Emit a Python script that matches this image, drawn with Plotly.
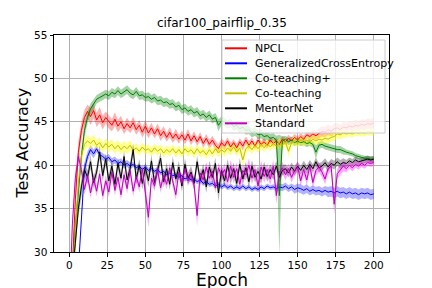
import numpy as np
import plotly.graph_objects as go

epochs = [1] + list(range(2, 201, 2))

npcl = [25.0,
    28.0, 36.0, 41.5, 44.0, 45.5, 46.2, 45.6, 46.3, 45.2, 45.8,
    44.9, 45.5, 45.0, 44.6, 45.3, 44.5, 45.0, 44.2, 44.8, 44.3,
    44.9, 44.1, 44.6, 43.8, 44.5, 43.7, 44.3, 43.6, 44.2, 43.4,
    43.9, 43.2, 43.8, 43.1, 43.6, 43.0, 43.5, 42.9, 43.6, 42.8,
    43.4, 42.7, 43.3, 42.5, 43.1, 42.4, 42.9, 42.3, 41.9, 42.6,
    42.2, 42.8, 42.1, 42.6, 42.0, 42.7, 42.2, 42.9, 42.3, 42.8,
    42.2, 42.9, 42.4, 42.7, 42.3, 42.9, 42.5, 42.8, 42.4, 43.0,
    42.7, 43.1, 42.8, 43.2, 42.9, 43.3, 43.0, 43.5, 43.3, 43.6,
    43.4, 43.7, 43.9, 43.8, 44.1, 43.9, 44.2, 44.3, 44.1, 44.4,
    44.3, 44.5, 44.4, 44.6, 44.5, 44.7, 44.6, 44.8, 44.7, 44.9]
npcl_std = [0.5,
    0.6, 1.0, 1.2, 1.0, 0.9, 0.8, 1.0, 0.9, 0.8, 0.9,
    0.8, 0.7, 0.8, 0.7, 0.8, 0.7, 0.7, 0.6, 0.7, 0.6,
    0.7, 0.6, 0.6, 0.6, 0.7, 0.6, 0.6, 0.5, 0.6, 0.6,
    0.6, 0.5, 0.6, 0.5, 0.6, 0.5, 0.5, 0.5, 0.6, 0.5,
    0.5, 0.5, 0.5, 0.5, 0.5, 0.5, 0.5, 0.5, 0.5, 0.5,
    0.5, 0.4, 0.5, 0.4, 0.5, 0.4, 0.5, 0.4, 0.5, 0.4,
    0.4, 0.4, 0.4, 0.4, 0.4, 0.4, 0.4, 0.4, 0.4, 0.4,
    0.4, 0.4, 0.4, 0.4, 0.4, 0.4, 0.4, 0.4, 0.5, 0.5,
    0.5, 0.6, 0.6, 0.6, 0.6, 0.6, 0.6, 0.6, 0.6, 0.6,
    0.6, 0.6, 0.6, 0.6, 0.6, 0.6, 0.6, 0.6, 0.6, 0.6]

gce = [20.0,
    22.0, 25.0, 28.0, 33.5, 39.5, 41.0, 41.8, 41.3, 41.9, 41.2,
    41.0, 40.7, 40.9, 40.4, 40.6, 40.2, 40.4, 40.0, 40.2, 39.9,
    40.1, 39.7, 39.9, 39.5, 39.8, 39.4, 39.6, 39.3, 39.5, 39.1,
    39.3, 38.9, 39.1, 38.8, 38.9, 38.6, 38.8, 38.4, 38.6, 38.3,
    38.4, 38.1, 38.3, 37.9, 38.1, 37.8, 37.9, 37.6, 37.8, 37.5,
    37.7, 37.4, 37.6, 37.3, 37.5, 37.3, 37.6, 37.3, 37.5, 37.2,
    37.4, 37.2, 37.5, 37.3, 37.6, 37.4, 37.5, 37.3, 37.5, 37.4,
    37.6, 37.3, 37.5, 37.2, 37.4, 37.3, 37.1, 37.3, 37.0, 37.2,
    37.0, 37.1, 36.9, 37.1, 36.9, 37.0, 36.8, 37.0, 36.8, 36.9,
    36.7, 36.9, 36.7, 36.8, 36.6, 36.8, 36.7, 36.8, 36.6, 36.7]
gce_std = [0.5,
    0.5, 0.5, 0.8, 1.0, 0.8, 0.6, 0.5, 0.5, 0.4, 0.4,
    0.4, 0.4, 0.4, 0.4, 0.4, 0.4, 0.4, 0.4, 0.4, 0.4,
    0.3, 0.3, 0.3, 0.3, 0.3, 0.3, 0.3, 0.3, 0.3, 0.3,
    0.3, 0.3, 0.3, 0.3, 0.3, 0.3, 0.3, 0.3, 0.3, 0.3,
    0.3, 0.3, 0.3, 0.3, 0.3, 0.3, 0.3, 0.3, 0.3, 0.3,
    0.3, 0.3, 0.3, 0.3, 0.3, 0.3, 0.3, 0.3, 0.3, 0.3,
    0.3, 0.3, 0.3, 0.3, 0.3, 0.3, 0.3, 0.4, 0.4, 0.4,
    0.4, 0.4, 0.4, 0.5, 0.5, 0.5, 0.5, 0.5, 0.5, 0.5,
    0.5, 0.5, 0.5, 0.5, 0.6, 0.6, 0.6, 0.6, 0.6, 0.6,
    0.6, 0.6, 0.6, 0.6, 0.6, 0.6, 0.6, 0.6, 0.6, 0.6]

coteach_plus = [22.0,
    27.0, 33.0, 37.0, 41.0, 44.0, 45.5, 46.5, 47.0, 47.6, 47.8,
    48.0, 48.2, 48.0, 48.4, 48.2, 48.6, 48.2, 48.5, 48.7, 48.3,
    48.1, 48.5, 48.0, 48.1, 47.8, 47.9, 47.6, 47.8, 47.4, 47.5,
    47.2, 47.3, 47.0, 47.1, 46.7, 46.9, 46.4, 46.6, 46.2, 46.4,
    46.0, 46.2, 45.7, 45.9, 45.5, 45.8, 45.3, 45.5, 44.6, 45.1,
    45.0, 44.7, 44.9, 44.4, 44.6, 44.2, 44.4, 44.0, 44.1, 43.7,
    43.9, 43.5, 43.6, 43.3, 43.4, 43.1, 43.2, 42.9, 36.5, 42.8,
    43.0, 42.7, 42.9, 42.6, 42.8, 42.6, 42.7, 42.5, 42.6, 42.4,
    41.5, 42.3, 42.4, 42.2, 42.1, 42.0, 41.9, 41.8, 41.8, 41.6,
    41.5, 41.4, 41.3, 41.1, 41.0, 40.9, 40.8, 40.8, 40.7, 40.7]
coteach_plus_std = [0.5,
    0.5, 0.8, 1.0, 0.9, 0.8, 0.7, 0.6, 0.6, 0.5, 0.5,
    0.5, 0.5, 0.5, 0.5, 0.5, 0.5, 0.5, 0.5, 0.5, 0.5,
    0.5, 0.5, 0.5, 0.5, 0.5, 0.5, 0.5, 0.5, 0.5, 0.5,
    0.5, 0.5, 0.5, 0.5, 0.5, 0.5, 0.5, 0.5, 0.5, 0.5,
    0.5, 0.5, 0.5, 0.5, 0.5, 0.5, 0.5, 0.5, 0.7, 0.5,
    0.5, 0.5, 0.5, 0.5, 0.5, 0.5, 0.5, 0.5, 0.5, 0.5,
    0.5, 0.5, 0.5, 0.5, 0.5, 0.5, 0.5, 0.5, 7.0, 0.5,
    0.4, 0.4, 0.4, 0.4, 0.4, 0.4, 0.4, 0.4, 0.4, 0.4,
    0.8, 0.4, 0.4, 0.4, 0.4, 0.4, 0.4, 0.4, 0.4, 0.4,
    0.3, 0.3, 0.3, 0.3, 0.3, 0.3, 0.3, 0.3, 0.3, 0.3]

coteach = [24.0,
    27.0, 33.0, 38.0, 41.0, 42.4, 42.8, 42.5, 42.9, 42.3, 42.6,
    42.0, 42.5, 42.1, 42.4, 41.9, 42.3, 41.8, 42.2, 41.9, 42.3,
    41.7, 42.0, 41.6, 42.1, 41.7, 41.9, 41.5, 42.0, 41.6, 41.9,
    41.4, 41.8, 41.5, 41.9, 41.4, 41.8, 41.3, 41.9, 41.5, 41.8,
    41.3, 41.9, 41.4, 41.7, 41.2, 41.8, 41.3, 41.9, 41.4, 41.8,
    41.5, 42.0, 41.6, 42.1, 41.5, 42.0, 40.6, 41.9, 42.2, 41.8,
    42.3, 41.9, 42.4, 42.0, 42.5, 42.1, 42.5, 42.2, 42.6, 42.3,
    42.7, 41.6, 42.6, 42.8, 42.5, 42.9, 42.6, 42.9, 42.7, 43.0,
    42.8, 43.0, 42.9, 43.1, 43.0, 43.2, 43.3, 43.6, 43.5, 43.7,
    43.6, 43.7, 43.6, 43.8, 43.7, 43.8, 43.7, 43.9, 43.8, 43.8]
coteach_std = [0.5,
    0.6, 0.8, 0.9, 0.8, 0.7, 0.7, 0.6, 0.6, 0.6, 0.6,
    0.6, 0.6, 0.6, 0.6, 0.6, 0.6, 0.6, 0.6, 0.6, 0.6,
    0.5, 0.5, 0.5, 0.5, 0.5, 0.5, 0.5, 0.5, 0.5, 0.5,
    0.5, 0.5, 0.5, 0.5, 0.5, 0.5, 0.5, 0.5, 0.5, 0.5,
    0.5, 0.5, 0.5, 0.5, 0.5, 0.5, 0.5, 0.5, 0.5, 0.5,
    0.5, 0.5, 0.5, 0.5, 0.5, 0.5, 0.8, 0.5, 0.5, 0.5,
    0.5, 0.5, 0.5, 0.5, 0.5, 0.5, 0.5, 0.5, 0.5, 0.5,
    0.5, 0.7, 0.5, 0.5, 0.5, 0.5, 0.5, 0.5, 0.5, 0.5,
    0.5, 0.5, 0.5, 0.5, 0.5, 0.5, 0.5, 0.5, 0.5, 0.5,
    0.4, 0.4, 0.4, 0.4, 0.4, 0.4, 0.4, 0.4, 0.4, 0.4]

mentornet = [24.0,
    27.0, 31.0, 35.0, 37.5, 39.5, 38.6, 40.4, 38.0, 39.2, 41.5,
    38.8, 40.7, 38.2, 39.9, 37.8, 40.2, 38.5, 41.0, 38.3, 39.6,
    41.8, 38.4, 40.0, 37.9, 39.7, 38.2, 40.5, 38.0, 39.4, 40.8,
    38.1, 39.6, 37.8, 40.3, 38.4, 39.8, 37.6, 40.1, 38.5, 39.2,
    37.9, 40.4, 38.3, 39.5, 37.5, 39.8, 38.6, 40.2, 36.8, 39.4,
    38.2, 40.0, 38.5, 39.6, 37.9, 40.1, 38.4, 39.7, 38.1, 39.9,
    38.6, 39.3, 38.4, 39.8, 38.7, 39.5, 38.9, 39.9, 38.6, 39.4,
    39.6, 39.1, 39.8, 39.3, 39.9, 39.4, 40.0, 39.5, 40.1, 39.6,
    40.4, 39.7, 39.9, 40.3, 39.8, 40.2, 40.0, 40.4, 40.1, 40.3,
    40.2, 40.5, 40.3, 40.6, 40.4, 40.5, 40.6, 40.7, 40.6, 40.7]
mentornet_std = [0.5,
    0.5, 0.8, 1.0, 0.9, 0.8, 0.8, 0.8, 0.7, 0.7, 0.8,
    0.7, 0.7, 0.7, 0.7, 0.7, 0.7, 0.7, 0.7, 0.7, 0.7,
    0.7, 0.7, 0.7, 0.7, 0.7, 0.7, 0.7, 0.7, 0.7, 0.7,
    0.7, 0.7, 0.7, 0.7, 0.7, 0.7, 0.7, 0.7, 0.7, 0.7,
    0.7, 0.7, 0.7, 0.7, 0.7, 0.7, 0.7, 0.7, 1.0, 0.7,
    0.7, 0.7, 0.7, 0.7, 0.7, 0.7, 0.7, 0.7, 0.7, 0.7,
    0.6, 0.6, 0.6, 0.6, 0.6, 0.6, 0.6, 0.6, 0.6, 0.6,
    0.5, 0.5, 0.5, 0.5, 0.5, 0.5, 0.5, 0.5, 0.5, 0.5,
    0.5, 0.5, 0.5, 0.5, 0.5, 0.5, 0.5, 0.5, 0.5, 0.5,
    0.4, 0.4, 0.4, 0.4, 0.4, 0.4, 0.4, 0.4, 0.4, 0.4]

standard = [28.0,
    33.0, 38.5, 41.0, 39.5, 37.2, 38.8, 36.8, 38.5, 37.0, 39.0,
    36.5, 38.2, 36.9, 39.2, 37.1, 38.6, 36.6, 38.9, 37.3, 39.4,
    37.0, 38.7, 37.5, 39.6, 36.9, 34.0, 38.5, 37.6, 39.5, 37.4,
    38.8, 37.8, 39.7, 38.0, 36.6, 39.2, 37.9, 39.6, 38.2, 39.0,
    37.7, 34.2, 39.1, 38.3, 39.8, 38.5, 39.3, 37.4, 39.7, 38.8,
    39.5, 38.1, 39.9, 38.6, 39.6, 37.8, 39.4, 38.9, 40.0, 38.5,
    39.5, 37.6, 39.8, 38.7, 39.5, 38.4, 39.9, 36.5, 39.2, 39.7,
    38.9, 39.6, 38.6, 39.4, 39.8, 38.2, 39.5, 38.3, 39.9, 38.0,
    39.4, 39.8, 39.2, 38.4, 39.6, 39.9, 35.5, 39.0, 39.5, 39.9,
    39.6, 40.0, 39.7, 40.1, 39.9, 40.2, 40.0, 40.3, 40.2, 40.3]
standard_std = [0.5,
    0.6, 0.8, 0.8, 0.7, 0.6, 0.6, 0.6, 0.6, 0.6, 0.6,
    0.6, 0.6, 0.6, 0.6, 0.6, 0.6, 0.6, 0.6, 0.6, 0.6,
    0.6, 0.6, 0.6, 0.6, 0.6, 1.2, 0.6, 0.6, 0.6, 0.6,
    0.6, 0.6, 0.6, 0.6, 0.6, 0.6, 0.6, 0.6, 0.6, 0.6,
    0.6, 1.2, 0.6, 0.6, 0.6, 0.6, 0.6, 0.6, 0.6, 0.6,
    0.7, 0.7, 0.7, 0.7, 0.7, 0.7, 0.7, 0.7, 0.7, 0.7,
    0.7, 0.7, 0.7, 0.7, 0.7, 0.7, 0.7, 1.0, 0.7, 0.7,
    0.6, 0.6, 0.6, 0.6, 0.6, 0.6, 0.6, 0.6, 0.6, 0.6,
    0.6, 0.6, 0.6, 0.6, 0.6, 0.6, 1.2, 0.6, 0.6, 0.6,
    0.4, 0.4, 0.4, 0.4, 0.4, 0.4, 0.4, 0.4, 0.4, 0.4]

names = ["NPCL", "GeneralizedCrossEntropy", "Co-teaching+", "Co-teaching", "MentorNet", "Standard"]
means = [npcl, gce, coteach_plus, coteach, mentornet, standard]
stds = [npcl_std, gce_std, coteach_plus_std, coteach_std, mentornet_std, standard_std]
line_colors = ["#ff0000", "#0000ff", "#008000", "#bfbf00", "#000000", "#bf00bf"]
band_colors = ["rgba(255,0,0,0.3)", "rgba(0,0,255,0.3)", "rgba(0,128,0,0.35)",
               "rgba(255,255,0,0.45)", "rgba(0,0,0,0.3)", "rgba(255,0,255,0.35)"]

FONT = "DejaVu Sans"
W, H = 432, 288
ML, MR, MT, MB = 54, 43, 35, 36
PW, PH = W - ML - MR, H - MT - MB

def px_x(p):
    return (p - ML) / PW

def px_y(p):
    return (H - MB - p) / PH

fig = go.Figure()
x = np.array(epochs, dtype=float)
for m, s, bc in zip(means, stds, band_colors):
    m = np.array(m); s = np.array(s)
    fig.add_trace(go.Scatter(
        x=np.concatenate([x, x[::-1]]),
        y=np.concatenate([m + s, (m - s)[::-1]]),
        fill="toself", fillcolor=bc, line=dict(width=0),
        mode="lines", showlegend=False, hoverinfo="skip"))
for n, m, lc in zip(names, means, line_colors):
    fig.add_trace(go.Scatter(x=epochs, y=m, mode="lines", name=n, showlegend=False,
                             line=dict(color=lc, width=1.0)))

# legend drawn as box + sample lines + labels (matplotlib-like spacing)
shapes = [dict(type="rect", xref="paper", yref="paper", layer="above",
               x0=px_x(222), x1=px_x(385), y0=px_y(133), y1=px_y(40),
               fillcolor="rgba(255,255,255,0.8)", line=dict(color="#cccccc", width=1))]
annotations = []
for i, (n, lc) in enumerate(zip(names, line_colors)):
    yc = 48.3 + i * 15.0
    shapes.append(dict(type="line", xref="paper", yref="paper", layer="above",
                       x0=px_x(225), x1=px_x(247), y0=px_y(yc), y1=px_y(yc),
                       line=dict(color=lc, width=2)))
    annotations.append(dict(text=n, xref="paper", yref="paper", x=px_x(253), y=px_y(yc),
                            xanchor="left", yanchor="middle", showarrow=False,
                            font=dict(family=FONT, size=11, color="black")))

axis_common = dict(showgrid=True, gridcolor="#b0b0b0", gridwidth=0.8,
                   showline=True, linecolor="black", linewidth=1, mirror=True,
                   ticks="outside", ticklen=3.5, tickcolor="black", zeroline=False,
                   tickfont=dict(family=FONT, size=10.5, color="black"))
annotations += [
    dict(text="cifar100_pairflip_0.35", xref="paper", yref="paper", x=0.5, y=1,
         xanchor="center", yanchor="bottom", yshift=3, showarrow=False,
         font=dict(family=FONT, size=12, color="black")),
    dict(text="Epoch", xref="paper", yref="paper", x=0.5, y=0,
         xanchor="center", yanchor="top", yshift=-16, showarrow=False,
         font=dict(family=FONT, size=17, color="black")),
    dict(text="Test Accuracy", xref="paper", yref="paper", x=0, y=0.5,
         xanchor="center", yanchor="middle", xshift=-32, textangle=-90, showarrow=False,
         font=dict(family=FONT, size=16, color="black")),
]
fig.update_layout(
    width=W, height=H,
    margin=dict(l=ML, r=MR, t=MT, b=MB),
    paper_bgcolor="white", plot_bgcolor="white",
    font=dict(family=FONT, color="black"),
    xaxis=dict(range=[-10, 210], tickvals=list(range(0, 201, 25)), **axis_common),
    yaxis=dict(range=[30, 55], tickvals=list(range(30, 56, 5)), **axis_common),
    showlegend=False,
    shapes=shapes,
    annotations=annotations,
)
fig.write_html("out.html", config={"displayModeBar": False},
               post_script="document.body.style.margin='0';document.body.style.padding='0';")
